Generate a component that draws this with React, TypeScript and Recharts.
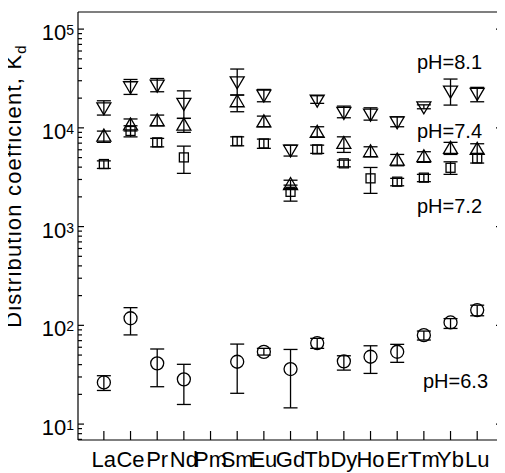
import { ComposedChart, Scatter, ErrorBar, XAxis, YAxis, Customized } from "recharts"

const elements = ["La", "Ce", "Pr", "Nd", "Pm", "Sm", "Eu", "Gd", "Tb", "Dy", "Ho", "Er", "Tm", "Yb", "Lu"]

// pH 8.1 (down triangles)
const ph81 = [15960, 26060, 27100, 17700, null, 29260, 21480, 5960, 19100, 14330, 13770, 11510, 16330, 23550, 22340]
const ph81Lo = [13470, 21800, 23200, 12470, null, 21500, 18370, 5180, 17700, 12650, 11970, 10260, 15600, 17000, 18370]
const ph81Hi = [18800, 30900, 31600, 23700, null, 39400, 24500, 6680, 21140, 16600, 15960, 12940, 17100, 31200, 25700]

// pH 7.4 (up triangles)
const ph74 = [8240, 10700, 11780, 10670, null, 18370, 11510, 2670, 9000, 6950, 5730, 4710, 5100, 6200, 6050]
const ph74Lo = [7130, 9300, 10490, 9000, null, 14560, 10260, 2440, 8110, 5640, 5100, 4130, 4470, 5380, 5500]
const ph74Hi = [9270, 12300, 13470, 12470, null, 21500, 13150, 2950, 10260, 8110, 6430, 5380, 5730, 7130, 6900]

// pH 7.2 (squares)
const ph72 = [4300, 9300, 7130, 5020, null, 7350, 6950, 2250, 6050, 4370, 3080, 2850, 3130, 3940, 4900]
const ph72Lo = [3880, 8100, 6420, 3460, null, 6580, 6200, 1810, 5510, 4030, 2170, 2590, 2850, 3380, 4400]
const ph72Hi = [4630, 10500, 7820, 6530, null, 8110, 7690, 2630, 6680, 4710, 3970, 3080, 3380, 4530, 5500]

// pH 6.3 (circles)
const ph63 = [26.4, 118, 41.2, 28.4, null, 42.8, 53.9, 36.1, 66.1, 43.2, 48.1, 54, 79.6, 107, 142.6]
const ph63Lo = [21.9, 80, 23.9, 15.8, null, 20.5, 50, 14.6, 58.5, 35.2, 32.6, 42.2, 71, 93, 125]
const ph63Hi = [30.9, 151, 57.6, 40.3, null, 64.6, 58.5, 57, 73.8, 49.2, 62.1, 64.2, 87.5, 117, 160]

const xTicks = elements.map((_, i) => i + 1)
const yTicks: number[] = []
for (let e = 0; e <= 5; e++) {
  for (let m = 1; m <= 9; m++) {
    const v = m * Math.pow(10, e)
    if (v >= 7 && v <= 100000) yTicks.push(v)
  }
}

const FONT = "'Liberation Sans', Arial, sans-serif"
const INK = "#000"

type Pt = { x: number; y: number; err: [number, number] }
const build = (vals: (number | null)[], lo: (number | null)[], hi: (number | null)[]) => {
  const out: Pt[] = []
  vals.forEach((v, i) => {
    if (v == null) return
    out.push({ x: i + 1, y: v, err: [v - (lo[i] as number), (hi[i] as number) - v] })
  })
  return out
}

const isMajor = (v: number) => Math.abs(Math.log10(v) - Math.round(Math.log10(v))) < 1e-9

const LeftTick = (p: any) => {
  const { x, y, payload } = p
  const v = payload.value
  const major = isMajor(v)
  return (
    <g>
      <line x1={x} x2={x + (major ? 6 : 4)} y1={y} y2={y} stroke={INK} strokeWidth={1.2} />
      {major && (
        <text x={x - 4} y={y + 11} textAnchor="end" fontSize={22} fontFamily={FONT} fill={INK}>
          10<tspan dy={-5} fontSize={14}>{Math.round(Math.log10(v))}</tspan>
        </text>
      )}
    </g>
  )
}

const RightTick = (p: any) => {
  const { x, y, payload } = p
  const major = isMajor(payload.value)
  return <line x1={x} x2={x - (major ? 6 : 4)} y1={y} y2={y} stroke={INK} strokeWidth={1.2} />
}

const BottomTick = (p: any) => {
  const { x, y, payload } = p
  return (
    <g>
      <line x1={x} x2={x} y1={y} y2={y - 9} stroke={INK} strokeWidth={1.2} />
      <text x={x} y={y + 27} textAnchor="middle" fontSize={22} fontFamily={FONT} fill={INK}>
        {elements[payload.value - 1]}
      </text>
    </g>
  )
}

const TopTick = (p: any) => {
  const { x, y } = p
  return <line x1={x} x2={x} y1={y} y2={y + 9} stroke={INK} strokeWidth={1.2} />
}

const circle = (p: any) => <circle cx={p.cx} cy={p.cy} r={6.5} fill="none" stroke={INK} strokeWidth={1.3} />
const triUp = (p: any) => (
  <polygon
    points={`${p.cx},${p.cy - 7} ${p.cx - 7},${p.cy + 5} ${p.cx + 7},${p.cy + 5}`}
    fill="none"
    stroke={INK}
    strokeWidth={1.3}
  />
)
const triDown = (p: any) => (
  <polygon
    points={`${p.cx},${p.cy + 7} ${p.cx - 7},${p.cy - 5} ${p.cx + 7},${p.cy - 5}`}
    fill="none"
    stroke={INK}
    strokeWidth={1.3}
  />
)
const square = (p: any) => (
  <rect x={p.cx - 4.5} y={p.cy - 4.5} width={9} height={9} fill="none" stroke={INK} strokeWidth={1.3} />
)

const series = [
  { name: "pH=8.1", data: build(ph81, ph81Lo, ph81Hi), shape: triDown },
  { name: "pH=7.4", data: build(ph74, ph74Lo, ph74Hi), shape: triUp },
  { name: "pH=7.2", data: build(ph72, ph72Lo, ph72Hi), shape: square },
  { name: "pH=6.3", data: build(ph63, ph63Lo, ph63Hi), shape: circle },
]

const Annotations = () => (
  <g fontFamily={FONT} fontSize={20} fill={INK}>
    <text x={417} y={69}>pH=8.1</text>
    <text x={417} y={138}>pH=7.4</text>
    <text x={417} y={213}>pH=7.2</text>
    <text x={423} y={388}>pH=6.3</text>
    <text
      x={21}
      y={186}
      transform="rotate(-90, 21, 186)"
      textAnchor="middle"
      fontSize={22}
      letterSpacing={1.2}
    >
      Distribution coefficient, K<tspan dy={5} fontSize={15}>d</tspan>
    </text>
  </g>
)

export default function App() {
  return (
    <div style={{ width: 505, height: 473, margin: "-8px 0 0 -8px" }}>
      <ComposedChart width={505} height={473} margin={{ top: 0, right: 0, bottom: 0, left: 0 }}>
        <XAxis
          type="number"
          dataKey="x"
          domain={[0.03, 15.93]}
          ticks={xTicks}
          interval={0}
          height={33}
          tickSize={0}
          tickMargin={0}
          tick={BottomTick}
          axisLine={{ stroke: INK, strokeWidth: 1.2 }}
          allowDataOverflow
        />
        <XAxis
          xAxisId="top"
          orientation="top"
          type="number"
          domain={[0.03, 15.93]}
          ticks={xTicks}
          interval={0}
          height={12}
          tickSize={0}
          tickMargin={0}
          tick={TopTick}
          axisLine={{ stroke: INK, strokeWidth: 1.2 }}
          allowDataOverflow
        />
        <YAxis
          type="number"
          dataKey="y"
          scale="log"
          domain={[6.9, 149000]}
          ticks={yTicks}
          interval={0}
          width={78}
          tickSize={0}
          tickMargin={0}
          tick={LeftTick}
          axisLine={{ stroke: INK, strokeWidth: 1.2 }}
          allowDataOverflow
        />
        <YAxis
          yAxisId="right"
          orientation="right"
          type="number"
          scale="log"
          domain={[6.9, 149000]}
          ticks={yTicks}
          interval={0}
          width={3}
          tickSize={0}
          tickMargin={0}
          tick={RightTick}
          axisLine={{ stroke: INK, strokeWidth: 1.2 }}
          allowDataOverflow
        />
        {series.map((s) => (
          <Scatter key={s.name} name={s.name} data={s.data} dataKey="y" shape={s.shape} isAnimationActive={false}>
            <ErrorBar dataKey="err" direction="y" width={7} stroke={INK} strokeWidth={1.3} />
          </Scatter>
        ))}
        <Customized component={Annotations} />
      </ComposedChart>
    </div>
  )
}
